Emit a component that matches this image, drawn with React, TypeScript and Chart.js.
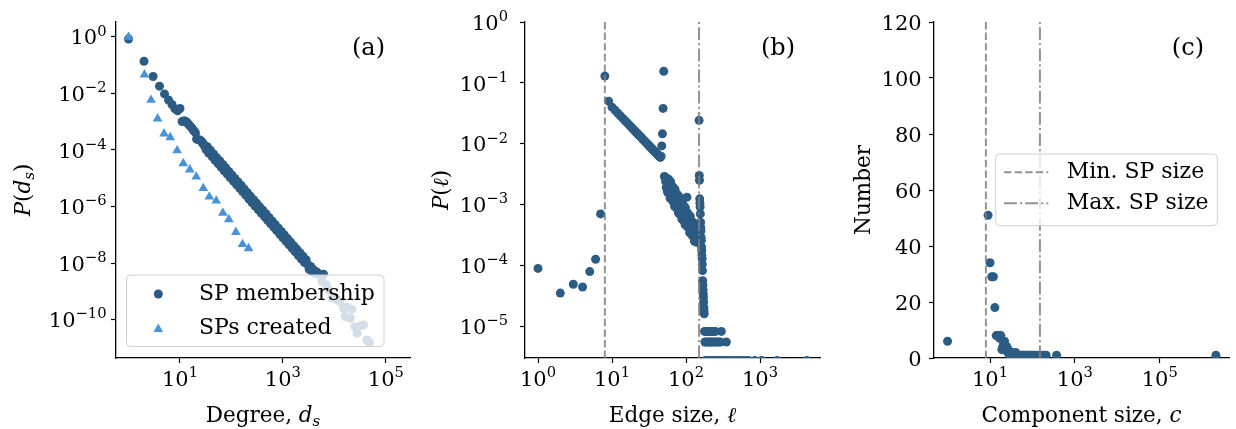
import React, { useEffect, useRef } from 'react';
import { Chart, registerables } from 'chart.js';

Chart.register(...registerables);

const SERIF = "'DejaVu Serif', 'Liberation Serif', serif";
const TICK_SIZE = 21;
const LABEL_SIZE = 21.5;
const PANEL_SIZE = 24;
const LEGEND_SIZE = 22;
const DARK_BLUE = '#2c5b84';
const LIGHT_BLUE = '#4a93d8';
const REF_GRAY = 'rgba(128,128,128,0.85)';

// ---------------- Panel (a): degree distributions ----------------
const membershipDegree = [
  1, 2, 3, 4, 5, 6, 7, 8, 9, 10, 11, 12, 13, 14, 15, 16, 17, 18, 19, 20, 21, 22, 23, 24, 25, 26, 27, 28, 29, 30,
  32, 34, 36, 39, 42, 45, 48, 51, 55, 59, 63, 68, 72, 78, 83, 89, 95, 102, 110, 117,
  126, 135, 145, 155, 166, 178, 191, 204, 219, 234, 251, 269, 288, 309, 331, 355, 380, 407, 437, 468,
  501, 537, 575, 617, 661, 708, 759, 813, 871, 933, 1000, 1072, 1148, 1230, 1318, 1413, 1514, 1622, 1738, 1862,
  1995, 2138, 2291, 2455, 2630, 2818,
  3020, 3236, 3467, 3715, 3981, 4266, 4571, 5012, 5495, 6166,
  5754, 6918, 7762, 8913, 11220, 12880, 15140, 17380, 21880, 16220, 20420, 25120, 31620, 37150, 27540, 42660, 47860,
];
const membershipProb = [
  0.83, 0.135, 0.039, 0.0178, 0.0095, 0.0058, 0.004, 0.0028, 0.0024, 0.0029,
  1.0e-3, 1.07e-3, 1.0e-3, 8.9e-4, 7.6e-4, 6.6e-4, 6.0e-4, 5.0e-4, 4.5e-4, 4.0e-4,
  2.4e-4, 2.34e-4, 2.29e-4, 2.24e-4, 2.14e-4, 2.0e-4, 1.82e-4, 1.66e-4, 1.51e-4, 1.38e-4,
  1.03e-4, 1.29e-4, 7.7e-5, 9.7e-5, 5.8e-5, 7.2e-5, 4.3e-5, 5.4e-5, 3.26e-5, 4.1e-5,
  2.44e-5, 3.06e-5, 1.83e-5, 2.3e-5, 1.38e-5, 1.72e-5, 1.03e-5, 1.29e-5, 7.7e-6, 9.7e-6,
  5.8e-6, 7.3e-6, 4.36e-6, 5.5e-6, 3.27e-6, 4.1e-6, 2.45e-6, 3.07e-6, 1.84e-6, 2.31e-6,
  1.38e-6, 1.73e-6, 1.03e-6, 1.3e-6, 7.8e-7, 9.7e-7, 5.8e-7, 7.3e-7, 4.38e-7, 5.5e-7,
  3.28e-7, 4.1e-7, 2.46e-7, 3.08e-7, 1.85e-7, 2.31e-7, 1.39e-7, 1.73e-7, 1.04e-7, 1.3e-7,
  7.8e-8, 9.8e-8, 5.8e-8, 7.3e-8, 4.4e-8, 5.5e-8, 3.3e-8, 4.1e-8, 2.47e-8, 3.1e-8,
  1.85e-8, 2.32e-8, 1.39e-8, 1.74e-8, 1.04e-8, 1.31e-8,
  8.9e-9, 6.0e-9, 7.6e-9, 5.0e-9, 5.75e-9, 4.2e-9, 4.8e-9, 4.0e-9, 3.55e-9, 4.0e-9,
  2.19e-9, 1.7e-9, 1.12e-9, 5.75e-10, 5.0e-10, 4.37e-10, 2.51e-10, 2.75e-10, 2.34e-10, 1.29e-10,
  1.12e-10, 5.6e-11, 6.0e-11, 6.5e-11, 3.3e-11, 1.9e-11, 1.55e-11,
];
const createdDegree = [1, 2.04, 2.74, 3.67, 4.9, 6.46, 8.81, 11.6, 15.5, 20.7, 28.4, 37.1, 50.7, 68.1, 89.1, 122, 164, 215];
const createdProb = [
  0.97, 0.0457, 0.00575, 1.26e-3, 3.72e-4, 2.75e-4, 9.5e-5, 3.3e-5, 2.0e-5, 1.12e-5,
  4.4e-6, 2.2e-6, 1.58e-6, 5.9e-7, 3.5e-7, 1.23e-7, 4.6e-8, 3.3e-8,
];
const aLegendLabels = ['SP membership', 'SPs created'];
const aXTickValues = [1e1, 1e3, 1e5];
const aXTickLabels = ['10^1', '10^3', '10^5'];
const aYTickValues = [1, 1e-2, 1e-4, 1e-6, 1e-8, 1e-10];
const aYTickLabels = ['10^0', '10^−2', '10^−4', '10^−6', '10^−8', '10^−10'];

// ---------------- Panel (b): edge size distribution ----------------
const edgeSize = [
  1, 2, 3, 4, 5, 6, 7, 8, 9,
  10, 11, 12, 13, 14, 15, 16, 17, 18, 19, 20, 21, 22, 23, 24, 25, 26, 27, 28, 29, 30,
  31, 32, 33, 34, 35, 36, 37, 38, 39, 40, 41, 42, 43, 44, 45,
  46, 47, 48, 49, 50,
  51, 52, 53, 54, 55, 56, 57, 58, 59, 60, 61, 62, 63, 64, 65, 66, 67, 68, 69, 70,
  71, 72, 73, 74, 75, 76, 77, 78, 79, 80, 81, 82, 83, 84, 85, 86, 87, 88, 89, 90,
  91, 92, 93, 94, 95, 96, 97, 98, 99, 100,
  102, 103, 104, 106, 108, 110, 112, 114, 116, 118, 120, 122, 124, 126, 128, 130, 132, 134, 136, 138, 140, 142, 144, 146, 148,
  150, 151, 152, 153, 154, 155, 156, 157, 158, 159, 160, 161, 162, 163, 164, 165, 166, 167, 168, 169, 170, 171, 172, 173, 174, 175, 176,
  178, 186, 195, 205, 215, 226, 238, 250, 300,
  180, 190, 200, 210, 220, 232, 245, 260, 275, 290, 350,
  182, 192, 202, 212, 224, 236, 255, 270, 285, 310, 330, 360, 400, 440, 480, 530, 580, 640, 700, 850, 1050, 1700, 4300,
];
const edgeProb = [
  8.9e-5, 3.5e-5, 4.9e-5, 4.4e-5, 7.9e-5, 1.26e-4, 7.0e-4, 0.129, 0.05,
  0.0398, 0.0353, 0.0316, 0.0286, 0.026, 0.0238, 0.022, 0.0204, 0.0189, 0.0177, 0.01656, 0.01556, 0.01469, 0.01387, 0.01315, 0.0125, 0.01189, 0.01133, 0.01081, 0.01035, 0.0099,
  0.0095, 0.00914, 0.0088, 0.00847, 0.00816, 0.00787, 0.0076, 0.00736, 0.00712, 0.0069, 0.00668, 0.00648, 0.0063, 0.00611, 0.00594,
  0.0062, 0.0092, 0.0145, 0.038, 0.155,
  2.9e-3, 2.82e-3, 2.4e-3, 1.9e-3, 2.63e-3, 1.66e-3, 1.56e-3, 2.62e-3, 1.75e-3, 2.12e-3, 1.26e-3, 2.38e-3, 1.66e-3, 1.34e-3, 1.96e-3, 1.14e-3, 1.92e-3, 1.29e-3, 1.57e-3, 9.38e-4,
  1.77e-3, 1.25e-3, 1.01e-3, 1.48e-3, 8.67e-4, 1.47e-3, 9.84e-4, 1.2e-3, 7.24e-4, 1.37e-3, 9.68e-4, 7.85e-4, 1.16e-3, 6.79e-4, 1.15e-3, 7.76e-4, 9.55e-4, 5.74e-4, 1.09e-3, 7.73e-4,
  6.28e-4, 9.27e-4, 5.46e-4, 9.27e-4, 6.28e-4, 7.73e-4, 4.66e-4, 8.87e-4, 6.3e-4, 5.13e-4,
  7.43e-4, 1.32e-3, 4.3e-4, 7.16e-4, 4.76e-4, 5.77e-4, 3.42e-4, 6.41e-4, 4.48e-4, 3.59e-4, 5.24e-4, 3.05e-4, 5.12e-4, 3.42e-4, 4.16e-4, 2.48e-4, 4.69e-4, 3.29e-4, 2.65e-4, 3.88e-4, 2.4e-4, 3.83e-4, 2.57e-4, 3.14e-4, 2.5e-4,
  0.0242, 3.0e-3, 2.5e-3, 1.24e-3, 1.05e-3, 9.1e-4, 7.0e-4, 5.1e-4, 4.2e-4, 3.7e-4, 2.9e-4, 2.57e-4, 2.0e-4, 1.76e-4, 1.45e-4, 1.28e-4, 1.04e-4, 8.2e-5, 5.6e-5, 4.7e-5, 4.0e-5, 3.4e-5, 3.0e-5, 2.5e-5, 2.05e-5, 1.8e-5, 1.6e-5,
  8.2e-6, 8.2e-6, 8.2e-6, 8.2e-6, 8.2e-6, 8.2e-6, 8.2e-6, 8.2e-6, 8.2e-6,
  5.5e-6, 5.5e-6, 5.5e-6, 5.5e-6, 5.5e-6, 5.5e-6, 5.5e-6, 5.5e-6, 5.5e-6, 5.5e-6, 5.5e-6,
  2.73e-6, 2.73e-6, 2.73e-6, 2.73e-6, 2.73e-6, 2.73e-6, 2.73e-6, 2.73e-6, 2.73e-6, 2.73e-6, 2.73e-6, 2.73e-6, 2.73e-6, 2.73e-6, 2.73e-6, 2.73e-6, 2.73e-6, 2.73e-6, 2.73e-6, 2.73e-6, 2.73e-6, 2.73e-6, 2.73e-6,
];
const bXTickValues = [1, 10, 100, 1000];
const bXTickLabels = ['10^0', '10^1', '10^2', '10^3'];
const bYTickValues = [1, 1e-1, 1e-2, 1e-3, 1e-4, 1e-5];
const bYTickLabels = ['10^0', '10^−1', '10^−2', '10^−3', '10^−4', '10^−5'];

// ---------------- Panel (c): component sizes ----------------
const componentSize = [
  1, 9, 10, 11, 12, 13, 14, 15, 16, 17, 18, 19, 20, 21, 22, 23, 24, 25, 26, 27, 28, 29, 30,
  31, 33, 35, 37, 40, 42, 45, 48, 52, 56, 60, 65, 70, 76, 82, 90, 100, 110, 125, 140, 160, 185, 210, 370, 2100000,
];
const componentCount = [
  6, 51, 34, 29, 29, 18, 8, 8, 8, 7, 8, 3, 4, 5, 6, 4, 3, 4, 2, 3, 2, 1, 2,
  1, 2, 1, 1, 2, 1, 1, 1, 1, 1, 1, 1, 1, 1, 1, 1, 1, 1, 1, 1, 1, 1, 1, 1, 1,
];
const cXTickValues = [1e1, 1e3, 1e5];
const cXTickLabels = ['10^1', '10^3', '10^5'];
const cYTickValues = [0, 20, 40, 60, 80, 100, 120];
const cYTickLabels = ['0', '20', '40', '60', '80', '100', '120'];

const spSizeLabels = ['Min. SP size', 'Max. SP size'];
const minSPSize = 8;
const maxSPSize = 150;

const DASH = [7.4, 3.2];
const DASH_DOT = [12.8, 3.2, 2, 3.2];

type Seg = { t: string; it?: boolean; sub?: boolean };

function zip(xs: number[], ys: number[]) {
  const n = Math.min(xs.length, ys.length);
  const out: { x: number; y: number }[] = [];
  for (let i = 0; i < n; i++) out.push({ x: xs[i], y: ys[i] });
  return out;
}

function drawRich(ctx: CanvasRenderingContext2D, segs: Seg[], x: number, y: number, size: number, align: 'center' | 'left' | 'right', rotate: boolean) {
  ctx.save();
  ctx.translate(x, y);
  if (rotate) ctx.rotate(-Math.PI / 2);
  const fontOf = (s: Seg) => `${s.it ? 'italic ' : ''}${s.sub ? size * 0.7 : size}px ${SERIF}`;
  let total = 0;
  const widths = segs.map((s) => {
    ctx.font = fontOf(s);
    const w = ctx.measureText(s.t).width;
    total += w;
    return w;
  });
  let cx = align === 'center' ? -total / 2 : align === 'right' ? -total : 0;
  ctx.textBaseline = 'alphabetic';
  ctx.textAlign = 'left';
  ctx.fillStyle = '#000';
  segs.forEach((s, i) => {
    ctx.font = fontOf(s);
    ctx.fillText(s.t, cx, s.sub ? size * 0.2 : 0);
    cx += widths[i];
  });
  ctx.restore();
}

// tick label like "10^−2": base at full size, exponent as a raised superscript
function drawTickLabel(ctx: CanvasRenderingContext2D, label: string, x: number, baseline: number, align: 'center' | 'right') {
  const parts = label.split('^');
  const base = parts[0];
  const exp = parts[1];
  const S = TICK_SIZE;
  ctx.save();
  ctx.fillStyle = '#000';
  ctx.textAlign = 'left';
  ctx.textBaseline = 'alphabetic';
  ctx.font = `${S}px ${SERIF}`;
  const wb = ctx.measureText(base).width;
  let we = 0;
  if (exp) {
    ctx.font = `${S * 0.7}px ${SERIF}`;
    we = ctx.measureText(exp).width;
  }
  const total = wb + we;
  const x0 = align === 'center' ? x - total / 2 : x - total;
  ctx.font = `${S}px ${SERIF}`;
  ctx.fillText(base, x0, baseline);
  if (exp) {
    ctx.font = `${S * 0.7}px ${SERIF}`;
    ctx.fillText(exp, x0 + wb, baseline - S * 0.42);
  }
  ctx.restore();
}

function roundRect(ctx: CanvasRenderingContext2D, x: number, y: number, w: number, h: number, r: number) {
  ctx.beginPath();
  ctx.moveTo(x + r, y);
  ctx.lineTo(x + w - r, y);
  ctx.arcTo(x + w, y, x + w, y + r, r);
  ctx.lineTo(x + w, y + h - r);
  ctx.arcTo(x + w, y + h, x + w - r, y + h, r);
  ctx.lineTo(x + r, y + h);
  ctx.arcTo(x, y + h, x, y + h - r, r);
  ctx.lineTo(x, y + r);
  ctx.arcTo(x, y, x + r, y, r);
  ctx.closePath();
}

function legendBox(ctx: CanvasRenderingContext2D, x: number, y: number, w: number, h: number) {
  roundRect(ctx, x, y, w, h, 4);
  ctx.fillStyle = 'rgba(255,255,255,0.8)';
  ctx.fill();
  ctx.lineWidth = 1;
  ctx.strokeStyle = '#d0d0d0';
  ctx.stroke();
}

function legendText(ctx: CanvasRenderingContext2D, text: string, x: number, y: number) {
  ctx.font = `${LEGEND_SIZE}px ${SERIF}`;
  ctx.fillStyle = '#000';
  ctx.textAlign = 'left';
  ctx.textBaseline = 'middle';
  ctx.fillText(text, x, y);
}

function axis(type: string, min: number, max: number, tickValues: number[], tickLabels: string[], fit: { width?: number; height?: number }) {
  return {
    type,
    min,
    max,
    afterBuildTicks: (scale: any) => {
      scale.ticks = tickValues.map((v) => ({ value: v }));
    },
    afterFit: (scale: any) => {
      if (fit.width !== undefined) scale.width = fit.width;
      if (fit.height !== undefined) scale.height = fit.height;
    },
    ticks: {
      display: false,
      autoSkip: false,
      maxRotation: 0,
      minRotation: 0,
      font: { family: SERIF, size: TICK_SIZE },
      callback: (value: any) => {
        const i = tickValues.indexOf(Number(value));
        return i >= 0 ? tickLabels[i] : '';
      },
    },
    grid: { display: true, drawOnChartArea: false, drawTicks: true, tickLength: 5, tickWidth: 1.2, tickColor: '#000', color: '#000' },
    border: { display: true, color: '#000', width: 1.3 },
    title: { display: false },
  };
}

type DecorCfg = {
  xTitle: Seg[];
  yTitle: Seg[];
  yTitleX: number;
  panel: string;
  xTicks: number[];
  xLabels: string[];
  yTicks: number[];
  yLabels: string[];
  yLabelGap: number;
  legend?: (ctx: CanvasRenderingContext2D) => void;
};

function decor(cfg: DecorCfg) {
  return {
    id: 'decor',
    afterDraw(chart: any) {
      const { ctx, chartArea, scales } = chart;
      cfg.xTicks.forEach((v, i) => {
        drawTickLabel(ctx, cfg.xLabels[i], scales.x.getPixelForValue(v), 385.5, 'center');
      });
      cfg.yTicks.forEach((v, i) => {
        drawTickLabel(ctx, cfg.yLabels[i], chartArea.left - cfg.yLabelGap, scales.y.getPixelForValue(v) + TICK_SIZE * 0.365, 'right');
      });
      drawRich(ctx, cfg.xTitle, (chartArea.left + chartArea.right) / 2, 422, LABEL_SIZE, 'center', false);
      drawRich(ctx, cfg.yTitle, cfg.yTitleX, (chartArea.top + chartArea.bottom) / 2, LABEL_SIZE, 'center', true);
      drawRich(ctx, [{ t: cfg.panel }], chartArea.right - 25, 55.2, PANEL_SIZE, 'right', false);
      if (cfg.legend) {
        ctx.save();
        cfg.legend(ctx);
        ctx.restore();
      }
    },
  };
}

const common = (padRight: number) => ({
  responsive: false,
  maintainAspectRatio: false,
  animation: false,
  devicePixelRatio: 1,
  events: [],
  layout: { padding: { top: 22, right: padRight, bottom: 0, left: 0 } },
  plugins: { legend: { display: false }, tooltip: { enabled: false } },
});

const pointStyleOf = (color: string, style: string, radius: number) => ({
  pointStyle: style,
  pointRadius: radius,
  pointHoverRadius: radius,
  pointBackgroundColor: color,
  pointBorderColor: color,
  pointBorderWidth: 0,
  backgroundColor: color,
  borderColor: color,
  showLine: false,
});

function vline(label: string, x: number, y0: number, y1: number, dash: number[]) {
  return {
    type: 'line',
    label,
    data: [{ x, y: y0 }, { x, y: y1 }],
    showLine: true,
    borderColor: REF_GRAY,
    borderWidth: 2,
    borderDash: dash,
    pointRadius: 0,
    fill: false,
    order: 0,
  };
}

function buildA(): any {
  return {
    type: 'scatter',
    data: {
      datasets: [
        { label: aLegendLabels[1], data: zip(createdDegree, createdProb), ...pointStyleOf(LIGHT_BLUE, 'triangle', 5.6), order: 0 },
        { label: aLegendLabels[0], data: zip(membershipDegree, membershipProb), ...pointStyleOf(DARK_BLUE, 'circle', 4.5), order: 1 },
      ],
    },
    options: {
      ...common(10),
      scales: {
        x: axis('logarithmic', 0.571, 2.95e5, aXTickValues, aXTickLabels, { height: 71 }),
        y: axis('logarithmic', 4.4e-12, 3.3, aYTickValues, aYTickLabels, { width: 116 }),
      },
    },
    plugins: [
      decor({
        xTitle: [{ t: 'Degree, ' }, { t: 'd', it: true }, { t: 's', it: true, sub: true }],
        yTitle: [{ t: 'P', it: true }, { t: '(' }, { t: 'd', it: true }, { t: 's', it: true, sub: true }, { t: ')' }],
        yTitleX: 29.5,
        panel: '(a)',
        xTicks: aXTickValues,
        xLabels: aXTickLabels,
        yTicks: aYTickValues,
        yLabels: aYTickLabels,
        yLabelGap: 9.5,
        legend: (ctx) => {
          legendBox(ctx, 126.5, 275, 257.5, 71.5);
          ctx.fillStyle = DARK_BLUE;
          ctx.beginPath();
          ctx.arc(158.3, 294, 4.5, 0, Math.PI * 2);
          ctx.fill();
          ctx.fillStyle = LIGHT_BLUE;
          ctx.beginPath();
          ctx.moveTo(158.3, 323.5);
          ctx.lineTo(153.5, 332);
          ctx.lineTo(163.1, 332);
          ctx.closePath();
          ctx.fill();
          legendText(ctx, aLegendLabels[0], 199, 294);
          legendText(ctx, aLegendLabels[1], 199, 328);
        },
      }),
    ],
  };
}

function buildB(): any {
  const yMin = 3.0e-6;
  const yMax = 1;
  return {
    type: 'scatter',
    data: {
      datasets: [
        vline(spSizeLabels[0], minSPSize, yMin, yMax, DASH),
        vline(spSizeLabels[1], maxSPSize, yMin, yMax, DASH_DOT),
        { label: 'P(ℓ)', data: zip(edgeSize, edgeProb), ...pointStyleOf(DARK_BLUE, 'circle', 4.5), order: 1, clip: 0 },
      ],
    },
    options: {
      ...common(10),
      scales: {
        x: axis('logarithmic', 0.667, 6460, bXTickValues, bXTickLabels, { height: 71 }),
        y: axis('logarithmic', yMin, yMax, bYTickValues, bYTickLabels, { width: 105 }),
      },
    },
    plugins: [
      decor({
        xTitle: [{ t: 'Edge size, ' }, { t: 'ℓ', it: true }],
        yTitle: [{ t: 'P', it: true }, { t: '(' }, { t: 'ℓ', it: true }, { t: ')' }],
        yTitleX: 28,
        panel: '(b)',
        xTicks: bXTickValues,
        xLabels: bXTickLabels,
        yTicks: bYTickValues,
        yLabels: bYTickLabels,
        yLabelGap: 17,
      }),
    ],
  };
}

function buildC(): any {
  const yMin = 0;
  const yMax = 120;
  return {
    type: 'scatter',
    data: {
      datasets: [
        vline(spSizeLabels[0], minSPSize, yMin, yMax, DASH),
        vline(spSizeLabels[1], maxSPSize, yMin, yMax, DASH_DOT),
        { label: 'Number', data: zip(componentSize, componentCount), ...pointStyleOf(DARK_BLUE, 'circle', 4.5), order: 1, clip: 0 },
      ],
    },
    options: {
      ...common(7),
      scales: {
        x: axis('logarithmic', 0.479, 4.27e6, cXTickValues, cXTickLabels, { height: 71 }),
        y: axis('linear', yMin, yMax, cYTickValues, cYTickLabels, { width: 104 }),
      },
    },
    plugins: [
      decor({
        xTitle: [{ t: 'Component size, ' }, { t: 'c', it: true }],
        yTitle: [{ t: 'Number' }],
        yTitleX: 40,
        panel: '(c)',
        xTicks: cXTickValues,
        xLabels: cXTickLabels,
        yTicks: cYTickValues,
        yLabels: cYTickLabels,
        yLabelGap: 12.3,
        legend: (ctx) => {
          legendBox(ctx, 165.7, 154, 221.6, 71.7);
          ctx.strokeStyle = REF_GRAY;
          ctx.lineWidth = 2;
          ctx.setLineDash(DASH);
          ctx.beginPath();
          ctx.moveTo(174, 172.3);
          ctx.lineTo(218.3, 172.3);
          ctx.stroke();
          ctx.setLineDash(DASH_DOT);
          ctx.beginPath();
          ctx.moveTo(174, 203.3);
          ctx.lineTo(218.3, 203.3);
          ctx.stroke();
          ctx.setLineDash([]);
          legendText(ctx, spSizeLabels[0], 236.7, 172.3);
          legendText(ctx, spSizeLabels[1], 236.7, 203.3);
        },
      }),
    ],
  };
}

function Panel({ left, width, build }: { left: number; width: number; build: () => any }) {
  const ref = useRef<HTMLCanvasElement>(null);
  useEffect(() => {
    if (!ref.current) return;
    const chart = new Chart(ref.current, build());
    return () => chart.destroy();
  }, []);
  return <canvas ref={ref} width={width} height={429} style={{ position: 'absolute', left, top: 0, width, height: 429 }} />;
}

export default function App() {
  return (
    <div style={{ position: 'absolute', left: 0, top: 0, width: 1236, height: 429, background: '#fff', overflow: 'hidden' }}>
      <Panel left={0} width={420} build={buildA} />
      <Panel left={420} width={410} build={buildB} />
      <Panel left={830} width={406} build={buildC} />
    </div>
  );
}
